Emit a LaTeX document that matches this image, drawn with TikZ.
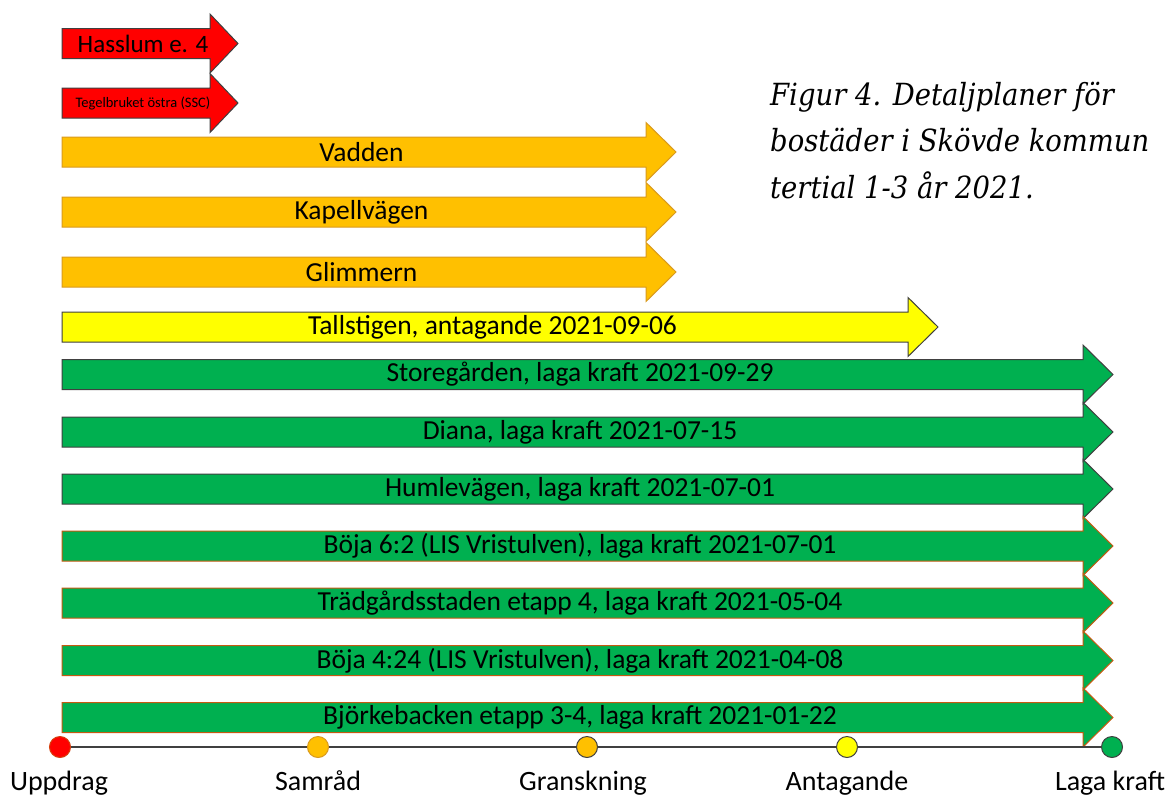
\documentclass[tikz,border=0pt]{standalone}
\usepackage{fontspec}
\setmainfont{Carlito}
\newfontfamily\capfont{DejaVu Serif Condensed}
\definecolor{cred}{HTML}{FF0000}
\definecolor{corange}{HTML}{FFC000}
\definecolor{cyellow}{HTML}{FFFF00}
\definecolor{cgreen}{HTML}{00B050}
\definecolor{cdark}{HTML}{404040}
\definecolor{cbrown}{HTML}{C55A11}
\definecolor{cgold}{HTML}{D99A1E}
\tikzset{
  redarr/.style={fill=cred,draw=cdark,line width=1pt},
  orarr/.style={fill=corange,draw=cgold,line width=1pt},
  yelarr/.style={fill=cyellow,draw=cdark,line width=1pt},
  grarrA/.style={fill=cgreen,draw=cdark,line width=1pt},
  grarrB/.style={fill=cgreen,draw=cbrown,line width=1pt},
  lbl/.style={inner sep=0pt,font=\fontsize{27.5}{30}\selectfont},
  stage/.style={circle,minimum size=21pt,inner sep=0pt,line width=1pt},
  stagelbl/.style={inner sep=0pt,anchor=base,font=\fontsize{28}{32}\selectfont},
}
\newcommand\harrow[6]{% style, name, ycenter, neck, tip, text
  \draw[#1,line join=miter] (62,#3-15) -- (#4,#3-15) -- (#4,#3-29.5) -- (#5,#3) -- (#4,#3+29.5) -- (#4,#3+15) -- (62,#3+15) -- cycle;
  \node[lbl] (#2) at ({(62+(#4+#5)/2)/2},#3) {#6};
}
\begin{document}
\begin{tikzpicture}[x=1pt,y=-1pt]
\useasboundingbox[fill=white] (0,0) rectangle (1173,796);
% red
\harrow{redarr}{hasslum}{43.5}{210}{238}{\fontsize{25}{28}\selectfont Hasslum e. 4}
\harrow{redarr}{tegel}{103}{210}{238}{\fontsize{14.5}{16}\selectfont Tegelbruket östra (SSC)}
% orange
\harrow{orarr}{vadden}{152}{646}{676}{Vadden}
\harrow{orarr}{kapell}{212}{646}{676}{Kapellvägen}
\harrow{orarr}{glimmern}{272}{646}{676}{Glimmern}
% yellow
\harrow{yelarr}{tall}{327}{908}{938}{Tallstigen, antagande 2021-09-06}
% green
\harrow{grarrA}{store}{374.5}{1083}{1113}{Storegården, laga kraft 2021-09-29}
\harrow{grarrA}{diana}{432}{1083}{1113}{Diana, laga kraft 2021-07-15}
\harrow{grarrA}{humle}{489}{1083}{1113}{Humlevägen, laga kraft 2021-07-01}
\harrow{grarrB}{boja62}{546}{1083}{1113}{Böja 6:2 (LIS Vristulven), laga kraft 2021-07-01}
\harrow{grarrB}{tradg}{603}{1083}{1113}{Trädgårdsstaden etapp 4, laga kraft 2021-05-04}
\harrow{grarrB}{boja424}{660.5}{1083}{1113}{Böja 4:24 (LIS Vristulven), laga kraft 2021-04-08}
\harrow{grarrB}{bjork}{717.5}{1083}{1113}{Björkebacken etapp 3-4, laga kraft 2021-01-22}
% timeline
\node[stage,fill=cred,draw=cbrown!70!cred] (s1) at (60,747) {};
\node[stage,fill=corange,draw=cgold] (s2) at (318,747) {};
\node[stage,fill=corange,draw=cdark] (s3) at (587,747) {};
\node[stage,fill=cyellow,draw=cdark] (s4) at (847,747) {};
\node[stage,fill=cgreen,draw=cdark] (s5) at (1112,747) {};
\draw[cdark,line width=2pt] (s1) -- (s2) -- (s3) -- (s4) -- (s5);
\node[stagelbl] (l1) at (59,790) {Uppdrag};
\node[stagelbl] (l2) at (318,790) {Samråd};
\node[stagelbl] (l3) at (583,790) {Granskning};
\node[stagelbl] (l4) at (847,790) {Antagande};
\node[stagelbl] (l5) at (1110,790) {Laga kraft};
% caption
\node[anchor=base west,inner sep=0pt,align=left,font=\capfont\itshape\fontsize{30.5}{46.5}\selectfont] (cap) at (770,198)
  {Figur 4. Detaljplaner för\\bostäder i Skövde kommun\\tertial 1-3 år 2021.};
\end{tikzpicture}
\end{document}
